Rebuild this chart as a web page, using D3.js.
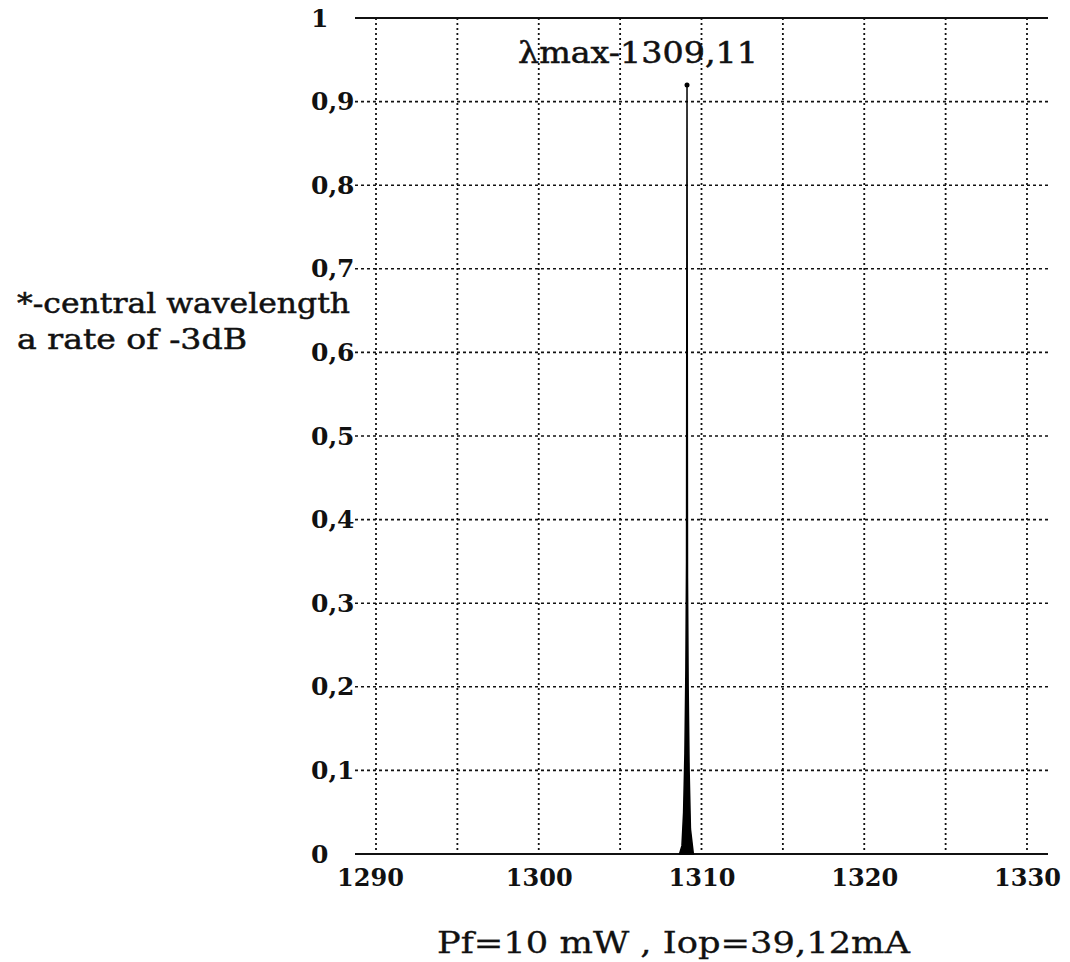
<!DOCTYPE html>
<html>
<head>
<meta charset="utf-8">
<script src="https://cdn.jsdelivr.net/npm/d3@7"></script>
<style>
  body { margin: 0; background: #fff; }
  svg { display: block; }
</style>
</head>
<body>
<svg id="chart"></svg>
<script>
// spectrum readings around the peak (nm, relative intensity)
var wavelengths = [1308.65, 1308.8, 1308.9, 1308.98, 1309.04, 1309.08, 1309.11, 1309.14, 1309.18, 1309.24, 1309.32, 1309.5];
var intensity   = [0, 0.01, 0.05, 0.12, 0.22, 0.35, 0.92, 0.33, 0.2, 0.1, 0.03, 0];
var xGrid = [1290, 1295, 1300, 1305, 1310, 1315, 1320, 1325, 1330];
var xLabels = [1290, 1300, 1310, 1320, 1330];
var yTicks = [0, 0.1, 0.2, 0.3, 0.4, 0.5, 0.6, 0.7, 0.8, 0.9, 1];
var peakLabel = "λmax-1309,11";
var noteLines = ["*-central wavelength", "a rate of -3dB"];
var footer = "Pf=10 mW ,  Iop=39,12mA";

var width = 1070, height = 962;
var svg = d3.select("#chart").attr("width", width).attr("height", height);

var x = d3.scaleLinear().domain([1290, 1330]).range([376, 1027]);
var y = d3.scaleLinear().domain([0, 1]).range([854, 18]);
var left = 355, right = 1048;

// dotted grid
svg.selectAll("line.vgrid")
   .data(xGrid)
   .enter()
   .append("line")
   .attr("class", "vgrid")
   .attr("x1", function(d){ return x(d); })
   .attr("x2", function(d){ return x(d); })
   .attr("y1", y(1))
   .attr("y2", y(0))
   .attr("stroke", "#111")
   .attr("stroke-width", 1.8)
   .attr("stroke-dasharray", "2,3");

svg.selectAll("line.hgrid")
   .data(yTicks.filter(function(d){ return d > 0 && d < 1; }))
   .enter()
   .append("line")
   .attr("class", "hgrid")
   .attr("x1", left)
   .attr("x2", right)
   .attr("y1", function(d){ return y(d); })
   .attr("y2", function(d){ return y(d); })
   .attr("stroke", "#111")
   .attr("stroke-width", 1.6)
   .attr("stroke-dasharray", "3,3");

// solid top and bottom lines
[0, 1].forEach(function(v){
  svg.append("line")
     .attr("x1", left).attr("x2", right)
     .attr("y1", y(v)).attr("y2", y(v))
     .attr("stroke", "#111")
     .attr("stroke-width", 2);
});

// x labels
var xAxis = svg.append("g")
   .attr("transform", "translate(0," + y(0) + ")")
   .call(d3.axisBottom(x).tickValues(xLabels).tickSize(0).tickFormat(d3.format("d")));
xAxis.select(".domain").remove();
xAxis.selectAll("text")
     .attr("y", 32)
     .attr("dy", 0)
     .attr("font-family", "DejaVu Serif")
     .attr("font-weight", "bold")
     .attr("font-size", 24)
     .attr("fill", "#111");
xAxis.selectAll("text")
     .filter(function(d){ return d === 1290; })
     .attr("dx", -6);

// y labels, left aligned
var yAxis = svg.append("g")
   .attr("transform", "translate(311,0)")
   .call(d3.axisLeft(y).tickValues(yTicks).tickSize(0).tickPadding(0)
         .tickFormat(function(d){ return d === 0 || d === 1 ? String(d) : d3.format(".1f")(d).replace(".", ","); }));
yAxis.select(".domain").remove();
yAxis.selectAll("text")
     .attr("text-anchor", "start")
     .attr("x", 0)
     .attr("font-family", "DejaVu Serif")
     .attr("font-weight", "bold")
     .attr("font-size", 25)
     .attr("fill", "#111");

// spectrum
var pts = wavelengths.map(function(w, i){ return [w, intensity[i]]; });
svg.append("path")
   .datum(pts)
   .attr("d", d3.area().x(function(d){ return x(d[0]); }).y0(y(0)).y1(function(d){ return y(d[1]); }))
   .attr("fill", "#000")
   .attr("stroke", "#000")
   .attr("stroke-width", 1.5);

var peak = pts.reduce(function(a, b){ return b[1] > a[1] ? b : a; });
svg.append("circle")
   .attr("cx", x(peak[0]))
   .attr("cy", y(peak[1]))
   .attr("r", 2.5)
   .attr("fill", "#000");

// texts
svg.append("text")
   .text(peakLabel)
   .attr("x", 518)
   .attr("y", 63)
   .attr("textLength", 240)
   .attr("lengthAdjust", "spacingAndGlyphs")
   .attr("font-family", "DejaVu Serif")
   .attr("font-size", 29)
   .attr("stroke", "#111")
   .attr("stroke-width", 0.5)
   .attr("fill", "#111");

svg.selectAll("text.note")
   .data(noteLines)
   .enter()
   .append("text")
   .attr("class", "note")
   .text(function(d){ return d; })
   .attr("x", 17)
   .attr("y", function(d, i){ return 313 + i * 36; })
   .attr("textLength", function(d, i){ return i === 0 ? 333 : 230; })
   .attr("lengthAdjust", "spacingAndGlyphs")
   .attr("font-family", "DejaVu Serif")
   .attr("font-size", 27)
   .attr("stroke", "#111")
   .attr("stroke-width", 0.5)
   .attr("fill", "#111");

svg.append("text")
   .text(footer)
   .attr("x", 437)
   .attr("y", 953)
   .attr("textLength", 473)
   .attr("lengthAdjust", "spacingAndGlyphs")
   .attr("font-family", "DejaVu Serif")
   .attr("font-size", 29)
   .attr("stroke", "#111")
   .attr("stroke-width", 0.3)
   .attr("fill", "#111");
</script>
</body>
</html>
